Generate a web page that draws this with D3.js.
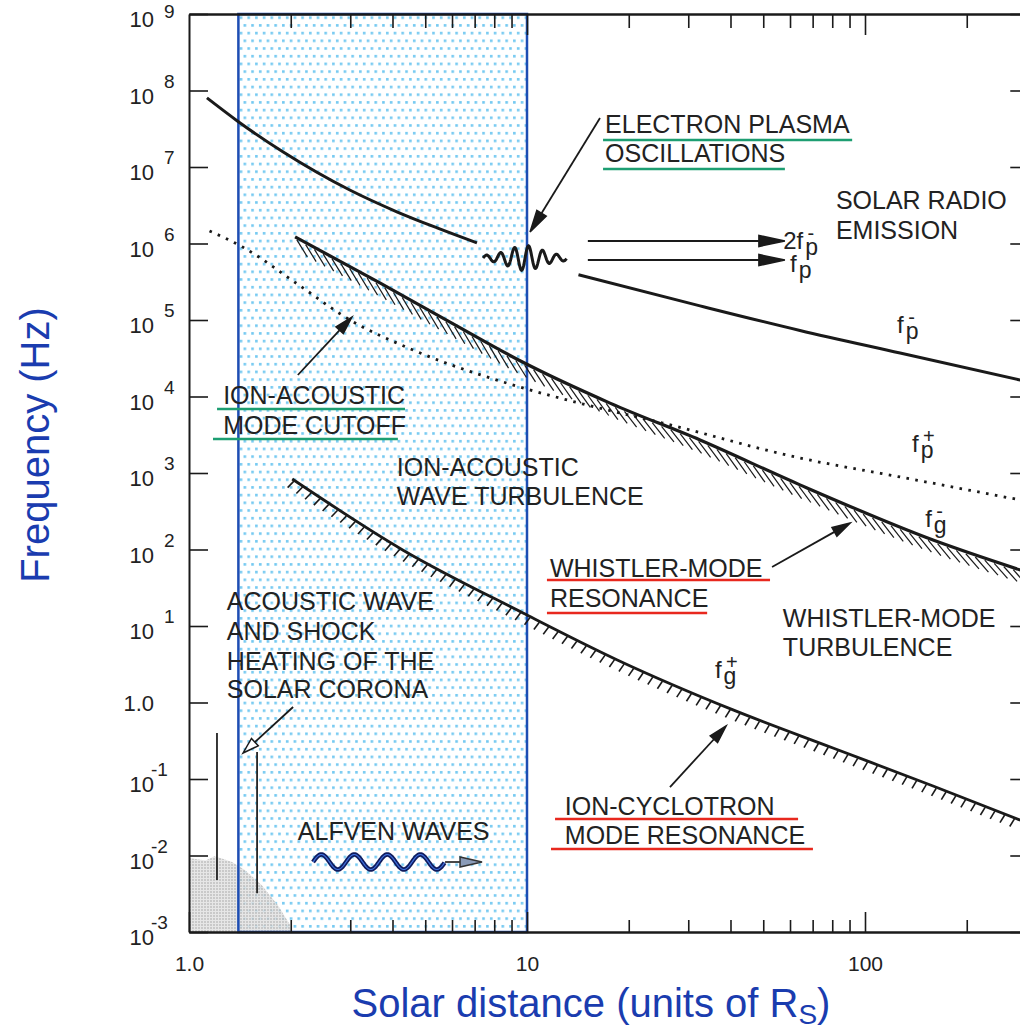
<!DOCTYPE html>
<html>
<head>
<meta charset="utf-8">
<script src="https://cdn.jsdelivr.net/npm/d3@7"></script>
<style>
body { margin: 0; background: #fff; }
svg { display: block; font-family: "Liberation Sans", Arial, sans-serif; }
</style>
</head>
<body>
<script>
// axis ticks
let xMajor = [1, 10, 100];
let xMajorLabels = ["1.0", "10", "100"];
let xMinor = [2, 3, 4, 5, 6, 7, 8, 9, 20, 30, 40, 50, 60, 70, 80, 90, 200];
let yTicks = [1e-3, 1e-2, 1e-1, 1, 1e1, 1e2, 1e3, 1e4, 1e5, 1e6, 1e7, 1e8, 1e9];
let yExponents = ["-3", "-2", "-1", "", "1", "2", "3", "4", "5", "6", "7", "8", "9"];

// curves: solar distance (R_S) vs frequency (Hz)
let fpInnerR = [1.13, 1.39, 1.90, 2.99, 4.12, 5.42, 7.11];
let fpInnerF = [8.0e7, 4.0e7, 1.57e7, 5.0e6, 2.6e6, 1.6e6, 1.02e6];
let fpOuterR = [14.2, 32.5, 64.2, 127, 288];
let fpOuterF = [3.9e5, 1.53e5, 7.3e4, 3.7e4, 1.64e4];
let fpPlusR = [1.15, 1.44, 2.13, 2.93, 4.6, 9.53, 14.6, 25.2, 64.2, 127, 288];
let fpPlusF = [1.46e6, 9.0e5, 2.8e5, 1.06e5, 4.06e4, 1.33e4, 8.0e3, 4.5e3, 1.57e3, 887, 444];
let fgMinusR = [2.06, 3.67, 5.92, 9.73, 17.6, 32.5, 64.2, 159, 288];
let fgMinusF = [1.22e6, 3.05e5, 9.4e4, 2.8e4, 8.2e3, 2.7e3, 700, 133, 54];
let fgPlusR = [2.02, 4.30, 9.73, 18.5, 40.7, 80.4, 159, 288];
let fgPlusF = [835, 98, 14.8, 3.6, 0.80, 0.254, 0.081, 0.029];

// shaded regions and spikes
let heatingBand = [1.4, 10];
let shockR = [1.0, 1.12, 1.19, 1.27, 1.34, 1.46, 1.64, 1.83, 1.99, 2.0, 1.0];
let shockF = [9.3e-3, 8.6e-3, 9.8e-3, 8.9e-3, 8.2e-3, 6.5e-3, 4.1e-3, 2.25e-3, 1.24e-3, 1e-3, 1e-3];
let spikeR = [1.21, 1.59];
let spikeTop = [0.40, 0.225];
let spikeBottom = [0.0048, 0.0032];

// annotation texts
let noteText = ["ELECTRON PLASMA", "OSCILLATIONS", "SOLAR RADIO", "EMISSION",
    "ION-ACOUSTIC", "MODE CUTOFF", "ION-ACOUSTIC", "WAVE TURBULENCE",
    "WHISTLER-MODE", "RESONANCE", "WHISTLER-MODE", "TURBULENCE",
    "ACOUSTIC WAVE", "AND SHOCK", "HEATING OF THE", "SOLAR CORONA",
    "ALFVEN WAVES", "ION-CYCLOTRON", "MODE RESONANCE"];
let curveLabels = [["2f", "p", "-"], ["f", "p", ""], ["f", "p", "-"], ["f", "p", "+"], ["f", "g", "-"], ["f", "g", "+"]];

// layout (log10 r, log10 f)
let noteAt = [[1.231, 7.444], [1.231, 7.065], [1.914, 6.451], [1.914, 6.059],
    [0.101, 3.902], [0.101, 3.510], [0.615, 2.961], [0.615, 2.582],
    [1.068, 1.641], [1.068, 1.248], [1.757, 0.987], [1.757, 0.608],
    [0.112, 1.209], [0.112, 0.817], [0.112, 0.425], [0.112, 0.059],
    [0.322, -1.797], [1.112, -1.471], [1.112, -1.850]];
let curveLabelAt = [[1.758, 5.928], [1.778, 5.627], [2.095, 4.830], [2.139, 3.275], [2.178, 2.294], [1.556, 0.320]];
let underlines = [[1.225, 1.962, 7.353, "#1d9e72"], [1.225, 1.763, 6.974, "#1d9e72"],
    [0.083, 0.639, 3.837, "#1d9e72"], [0.071, 0.618, 3.444, "#1d9e72"],
    [1.059, 1.719, 1.601, "#e8281e"], [1.059, 1.533, 1.170, "#e8281e"],
    [1.083, 1.802, -1.523, "#e8281e"], [1.071, 1.846, -1.915, "#e8281e"]];
let arrows = [[1.216, 7.641, 1.009, 6.150, 22, 11, false],
    [1.180, 6.033, 1.763, 6.033, 26, 11, false],
    [1.180, 5.784, 1.763, 5.784, 26, 11, false],
    [0.322, 4.281, 0.482, 5.039, 18, 10, false],
    [1.725, 1.771, 1.956, 2.346, 18, 10, false],
    [1.423, -1.105, 1.589, -0.307, 18, 10, false],
    [0.308, -0.059, 0.160, -0.660, 16, 10, true]];

let blue = "#1a3caf";
let ink = "#1a1a1a";

let svg = d3.select("body").append("svg").attr("width", 1020).attr("height", 1032);
let x = d3.scaleLog().domain([1, 300]).range([189, 189 + 338 * Math.log10(300)]);
let y = d3.scaleLog().domain([1e-3, 1e9]).range([932, 14]);
let px = lr => x(Math.pow(10, lr));
let py = lf => y(Math.pow(10, lf));

let defs = svg.append("defs");
let dots = defs.append("pattern").attr("id", "blueDots").attr("patternUnits", "userSpaceOnUse")
    .attr("width", 7.7).attr("height", 15.4);
dots.append("rect").attr("width", 7.7).attr("height", 15.4).attr("fill", "#fff");
dots.append("rect").attr("x", 1).attr("y", 1).attr("width", 2.6).attr("height", 2.6).attr("fill", "#74c9f1");
dots.append("rect").attr("x", 4.85).attr("y", 8.7).attr("width", 2.6).attr("height", 2.6).attr("fill", "#74c9f1");
let grey = defs.append("pattern").attr("id", "greyDots").attr("patternUnits", "userSpaceOnUse")
    .attr("width", 3).attr("height", 3);
grey.append("rect").attr("width", 3).attr("height", 3).attr("fill", "#e2e2e2");
grey.append("circle").attr("cx", 1).attr("cy", 1).attr("r", 0.75).attr("fill", "#8a8a8a");

// heating band
let band = {x: x(heatingBand[0]), y: y(1e9), w: x(heatingBand[1]) - x(heatingBand[0]), h: y(1e-3) - y(1e9)};
svg.append("rect").attr("x", band.x).attr("y", band.y).attr("width", band.w).attr("height", band.h)
    .attr("fill", "url(#blueDots)");

let line = d3.line().curve(d3.curveMonotoneX);
svg.append("path")
    .attr("d", d3.line()(shockR.map((r, i) => [x(r), y(shockF[i])])) + "Z")
    .attr("fill", "url(#greyDots)").attr("opacity", 0.85);

svg.append("rect").attr("x", band.x).attr("y", band.y).attr("width", band.w).attr("height", band.h)
    .attr("fill", "none").attr("stroke", "#1d4db3").attr("stroke-width", 2.5);

spikeR.forEach((r, i) => {
    svg.append("line").attr("x1", x(r)).attr("x2", x(r))
        .attr("y1", y(spikeTop[i])).attr("y2", y(spikeBottom[i]))
        .attr("stroke", "#222").attr("stroke-width", 1.8);
});

// axes
function styleAxis(g) {
    g.attr("font-family", null).attr("font-size", 21);
    g.select(".domain").attr("stroke", ink).attr("stroke-width", 2);
    g.selectAll(".tick line").attr("stroke", ink).attr("stroke-width", 1.6);
    g.selectAll(".tick text").attr("fill", "#222");
}
svg.append("g").attr("transform", `translate(0,${y(1e-3)})`)
    .call(d3.axisBottom(x).tickValues(xMinor).tickSize(-12).tickSizeOuter(0).tickFormat(""))
    .call(styleAxis);
svg.append("g").attr("transform", `translate(0,${y(1e-3)})`)
    .call(d3.axisBottom(x).tickValues(xMajor).tickSize(-20).tickSizeOuter(0).tickPadding(24)
        .tickFormat((d, i) => xMajorLabels[i]))
    .call(styleAxis);
svg.append("g").attr("transform", `translate(0,${y(1e9)})`)
    .call(d3.axisTop(x).tickValues(xMinor).tickSize(-14).tickSizeOuter(0).tickFormat(""))
    .call(styleAxis);
svg.append("g").attr("transform", `translate(0,${y(1e9)})`)
    .call(d3.axisTop(x).tickValues(xMajor.slice(1)).tickSize(-21).tickSizeOuter(0).tickFormat(""))
    .call(styleAxis);
svg.append("g").attr("transform", `translate(${x(1)},0)`)
    .call(d3.axisLeft(y).tickValues(yTicks).tickSize(-19).tickSizeOuter(0).tickFormat(""))
    .call(styleAxis);
svg.append("g").attr("transform", `translate(${x(300)},0)`)
    .call(d3.axisRight(y).tickValues(yTicks).tickSize(-16).tickSizeOuter(0).tickFormat(""))
    .call(styleAxis);

yTicks.forEach((v, i) => {
    let e = yExponents[i];
    if (e === "") {
        svg.append("text").attr("x", 154).attr("y", y(v) + 8).attr("text-anchor", "end")
            .attr("font-size", 22).attr("fill", "#222").text("1.0");
        return;
    }
    let top = i === yTicks.length - 1;
    svg.append("text").attr("x", 154).attr("y", y(v) + 13).attr("text-anchor", "end")
        .attr("font-size", 22).attr("fill", "#222").text("10");
    svg.append("text").attr("x", e[0] === "-" ? 151 : 164).attr("y", top ? y(v) + 4 : y(v) - 3)
        .attr("font-size", 19).attr("fill", "#222").text(e);
});

// curves
function curve(rs, fs, width, dash) {
    let p = svg.append("path")
        .attr("d", line(rs.map((r, i) => [x(r), y(fs[i])])))
        .attr("fill", "none").attr("stroke", ink).attr("stroke-width", width);
    if (dash) p.attr("stroke-dasharray", dash);
    return p;
}
function hatch(path, step, len, rot, width, off) {
    let node = path.node();
    let total = node.getTotalLength();
    for (let s = 2; s < total - 2; s += step) {
        let p = node.getPointAtLength(s);
        let q = node.getPointAtLength(s + 1);
        let a = Math.atan2(q.y - p.y, q.x - p.x) + rot * Math.PI / 180;
        svg.append("line").attr("x1", p.x).attr("y1", p.y + off)
            .attr("x2", p.x + len * Math.cos(a)).attr("y2", p.y + off + len * Math.sin(a))
            .attr("stroke", ink).attr("stroke-width", width);
    }
}
curve(fpInnerR, fpInnerF, 3);
curve(fpOuterR, fpOuterF, 3);
curve(fpPlusR, fpPlusF, 2.8, "2.6 6.4");
let fgMinus = curve(fgMinusR, fgMinusF, 3.2);
hatch(fgMinus, 10, 20, 30, 1.2, 2);
let fgPlus = curve(fgPlusR, fgPlusF, 2.8);
hatch(fgPlus, 10.5, 9, 100, 1.6, 1);

// electron plasma oscillation wave packet
{
    let x0 = px(0.870), x1 = px(1.118), y0 = py(5.810);
    let pts = d3.range(x0, x1, 0.5).map(t => {
        let amp = 2.5 + 10 * Math.exp(-Math.pow((t - (x0 + x1) / 2) / 22, 2));
        return [t, y0 - amp * Math.sin((t - x0) / 14 * 2 * Math.PI)];
    });
    svg.append("path").attr("d", d3.line()(pts)).attr("fill", "none")
        .attr("stroke", ink).attr("stroke-width", 3);
}

// Alfven wave
{
    let x0 = px(0.367), x1 = px(0.867), y0 = py(-2.085);
    let xw = x0 + 132;
    let pts = d3.range(x0, xw, 0.5).map(t => [t, y0 - 7.5 * Math.sin((t - x0) / 33 * 2 * Math.PI)]);
    svg.append("path").attr("d", d3.line()(pts)).attr("fill", "none")
        .attr("stroke", "#0f1c5e").attr("stroke-width", 4.5);
    svg.append("path").attr("d", d3.line()(pts)).attr("fill", "none")
        .attr("stroke", "#3f6fdc").attr("stroke-width", 1.2);
    svg.append("line").attr("x1", xw).attr("x2", x1 - 20).attr("y1", y0).attr("y2", y0)
        .attr("stroke", "#333").attr("stroke-width", 1.8);
    svg.append("path").attr("d", `M${x1},${y0} L${x1 - 22},${y0 - 5} L${x1 - 22},${y0 + 5} Z`)
        .attr("fill", "#8a9bb8").attr("stroke", "#333").attr("stroke-width", 1.5);
}

// arrows
arrows.forEach(a => {
    let x1 = px(a[0]), y1 = py(a[1]), x2 = px(a[2]), y2 = py(a[3]);
    let ang = Math.atan2(y2 - y1, x2 - x1);
    let len = a[4], half = a[5] / 2;
    let bx = x2 - len * Math.cos(ang), by = y2 - len * Math.sin(ang);
    svg.append("line").attr("x1", x1).attr("y1", y1).attr("x2", bx).attr("y2", by)
        .attr("stroke", ink).attr("stroke-width", 1.8);
    let head = [[x2, y2],
        [bx + half * Math.sin(ang), by - half * Math.cos(ang)],
        [bx - half * Math.sin(ang), by + half * Math.cos(ang)]];
    svg.append("path").attr("d", "M" + head.join("L") + "Z")
        .attr("fill", a[6] ? "none" : ink).attr("stroke", ink).attr("stroke-width", 1.5);
});

// text notes
noteText.forEach((t, i) => {
    svg.append("text").attr("x", px(noteAt[i][0])).attr("y", py(noteAt[i][1]))
        .attr("font-size", 25).attr("fill", "#222").text(t);
});
underlines.forEach(u => {
    svg.append("line").attr("x1", px(u[0])).attr("x2", px(u[1])).attr("y1", py(u[2])).attr("y2", py(u[2]))
        .attr("stroke", u[3]).attr("stroke-width", 2.5);
});

// curve names with sub- and superscripts in one text
curveLabels.forEach((c, i) => {
    let t = svg.append("text").attr("x", px(curveLabelAt[i][0])).attr("y", py(curveLabelAt[i][1]))
        .attr("font-size", 24).attr("fill", "#222");
    t.append("tspan").text(c[0]);
    let sub = t.append("tspan").attr("dx", 2).attr("dy", 6).attr("font-size", 23).text(c[1]);
    if (c[2]) {
        let sw = sub.node().getComputedTextLength();
        t.append("tspan").attr("font-size", 20).attr("dy", -15)
            .attr("dx", -(sw / 2 + 4)).text(c[2]);
    }
});

// axis titles
svg.append("text").attr("transform", "translate(49,445) rotate(-90)").attr("text-anchor", "middle")
    .attr("font-size", 40).attr("fill", blue).text("Frequency (Hz)");
let xt = svg.append("text").attr("x", 591).attr("y", 1017).attr("text-anchor", "middle")
    .attr("font-size", 40).attr("fill", blue);
xt.append("tspan").text("Solar distance (units of R");
xt.append("tspan").attr("font-size", 28).attr("dy", 7).text("S");
xt.append("tspan").attr("dy", -7).text(")");
</script>
</body>
</html>
